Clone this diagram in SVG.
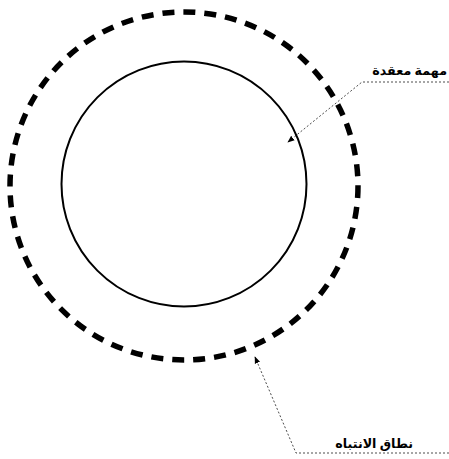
<svg xmlns="http://www.w3.org/2000/svg" width="449" height="459" viewBox="0 0 449 459">
<style>
.lead{fill:none;stroke:#000;stroke-width:0.7;stroke-dasharray:2 2}
.lbl{font-family:"Noto Sans","DejaVu Sans",sans-serif;font-weight:bold;font-size:12.7px;fill:#000}
</style>
<defs>
<marker id="ah" viewBox="0 0 10 10" refX="9" refY="5" markerWidth="7" markerHeight="7" orient="auto" markerUnits="userSpaceOnUse">
<path d="M0,1 L10,5 L0,9 z" fill="#000"/>
</marker>
</defs>
<rect width="449" height="459" fill="#fff"/>
<g id="attention-scope">
<circle cx="184" cy="186" r="174" fill="none" stroke="#000" stroke-width="5.5" stroke-dasharray="12 9"/>
</g>
<g id="complex-task">
<circle cx="184" cy="184" r="122.5" fill="none" stroke="#000" stroke-width="2"/>
</g>
<g id="connectors">
<path class="lead" d="M449,82 L362,82 L288,142" marker-end="url(#ah)"/>
<path class="lead" d="M449,453 L296,453 L255,357" marker-end="url(#ah)"/>
</g>
<g id="labels">
<text class="lbl" x="447" y="75" text-anchor="end">مهمة معقدة</text>
<text class="lbl" x="413" y="448" text-anchor="end">نطاق الانتباه</text>
</g>
</svg>
